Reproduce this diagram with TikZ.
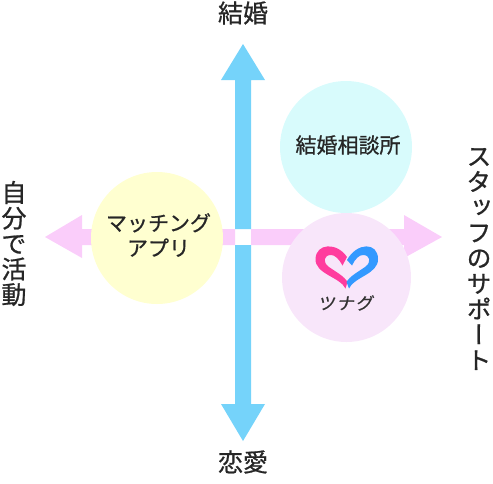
\documentclass[tikz,border=0pt]{standalone}
\usepackage{fontspec}
\setmainfont[FakeBold=0.8]{Noto Sans CJK JP}
\newfontfamily\tatefont[Vertical=Alternates,FakeBold=0.8]{Noto Sans CJK JP}
\newfontfamily\logofont[FakeBold=0.6]{Noto Sans CJK JP}
\usetikzlibrary{positioning, arrows.meta, calc}

\begin{document}
\begin{tikzpicture}[
                x=1pt, y=-1pt,
                axislabel/.style={inner sep=0pt, font=\fontsize{25}{25}\selectfont, text=black!85},
                tatelabel/.style={inner sep=0pt, align=center, font=\fontsize{25}{25.5}\selectfont\tatefont, text=black!85},
                circlelabel/.style={inner sep=0pt, align=center, font=\fontsize{21}{25}\selectfont, text=black!85},
                bubble/.style={circle, inner sep=0pt, minimum size=132pt},
                barv/.style={fill=SkyAxis},
                barh/.style={fill=PinkAxis}
            ]
            \definecolor{SkyAxis}{HTML}{75D3FA}
            \definecolor{PinkAxis}{HTML}{FACDFA}
            \definecolor{BubbleCyan}{HTML}{D8FBFC}
            \definecolor{BubbleYellow}{HTML}{FFFFD0}
            \definecolor{BubblePink}{HTML}{F8E6FA}
            \definecolor{HeartPink}{HTML}{FF3C9E}
            \definecolor{HeartBlue}{HTML}{3399FF}
            \useasboundingbox (0,0) rectangle (493,483);

            % Achsen
            \fill[barh] (45,237) -- (82,215) -- (82,229) -- (235,229) -- (235,245) -- (82,245) -- (82,258) -- cycle;
            \fill[barh] (442,237) -- (404,215) -- (404,229) -- (251,229) -- (251,245) -- (404,245) -- (404,258) -- cycle;
            \fill[barv] (243,44) -- (221,80) -- (235,80) -- (235,229) -- (251,229) -- (251,80) -- (265,80) -- cycle;
            \fill[barv] (243,441) -- (221,404) -- (235,404) -- (235,245) -- (251,245) -- (251,404) -- (265,404) -- cycle;

            % Knoten
            \node[bubble, fill=BubbleCyan] (soudan) at (346,147) {};
            \node[circlelabel] (soudantext) at (348,145) {結婚相談所};
            \node[bubble, fill=BubbleYellow] (match) at (157,238) {};
            \node[circlelabel] (matchtext) at (158.5,235) {マッチング\\アプリ};
            \node[bubble, fill=BubblePink, minimum size=129pt] (tsunagu) at (346.5,277.5) {};
            \node[inner sep=0pt, font=\fontsize{17}{17}\selectfont\logofont, text=black!80, xslant=0.15, xscale=1.02] (logo) at (346.5,303) {ツ\hspace{1.5pt}ナ\hspace{1.5pt}グ};

            \node[axislabel] (top) at (243,13) {結婚};
            \node[axislabel] (bottom) at (243,462) {恋愛};
            \node[tatelabel] (left) at (14,243.5) {自\\分\\で\\活\\動};
            \node[tatelabel] (right) at (479,259) {ス\\タ\\ッ\\フ\\の\\サ\\ポ\\ー\\ト};

            % Herz
            \fill[HeartPink] (345.5,288.5) .. controls (340,277) and (315,274) .. (315.5,259)
                .. controls (316,243) and (337,242) .. (347,257) -- (342.5,265.5)
                .. controls (339,259) and (335,255) .. (331,255) .. controls (324,255) and (322,262) .. (329,267)
                .. controls (336,272) and (344,276) .. (347.5,282) -- cycle;
            \fill[HeartBlue] (349,288.5) .. controls (354,277) and (378.5,274) .. (378,259)
                .. controls (378,242) and (357,242) .. (347,260) -- (352,265.5)
                .. controls (355,259) and (359,255) .. (363,255) .. controls (370,255) and (372,262) .. (365,267)
                .. controls (358,272) and (350,276) .. (346.5,282) -- cycle;
\end{tikzpicture}
\end{document}
